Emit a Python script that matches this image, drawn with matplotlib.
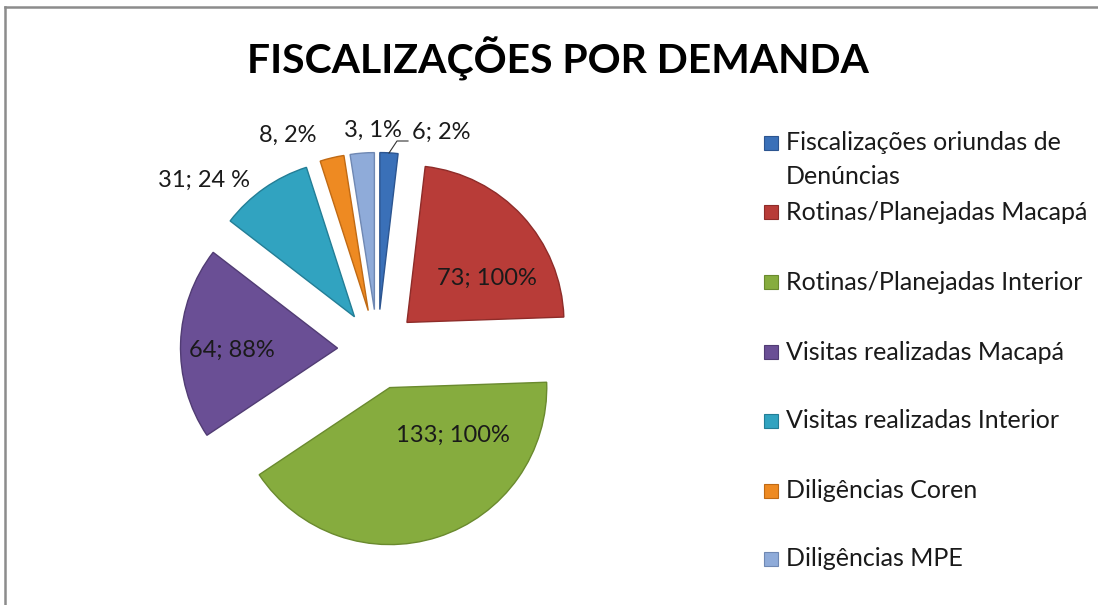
import matplotlib
matplotlib.use("Agg")
import matplotlib.pyplot as plt
from matplotlib.patches import Rectangle
from matplotlib.lines import Line2D

# ---- data ----
categories = [
    "Fiscalizações oriundas de\nDenúncias",
    "Rotinas/Planejadas Macapá",
    "Rotinas/Planejadas Interior",
    "Visitas realizadas Macapá",
    "Visitas realizadas Interior",
    "Diligências Coren",
    "Diligências MPE",
]
values = [6, 73, 133, 64, 31, 8, 8]
data_labels = ["6; 2%", "73; 100%", "133; 100%", "64; 88%", "31; 24 %", "8, 2%", "3, 1%"]
title = "FISCALIZAÇÕES POR DEMANDA"

colors = ["#3A70B8", "#B83C38", "#86AC3E", "#6A4F95", "#31A3C0", "#EE8A22", "#8FABD9"]
edge_colors = ["#2C5590", "#8E2C29", "#6A8A2E", "#513C74", "#237E96", "#C06A14", "#6F88B3"]

W, H = 1098, 605
fig = plt.figure(figsize=(W / 100, H / 100), dpi=100)
fig.patch.set_facecolor("white")

# pie geometry (pixels)
cx, cy, R = 377.5, 349.5, 157.0
ax = fig.add_axes([0, 0, 1, 1])
wedges, _ = ax.pie(values, colors=colors, startangle=90, counterclock=False,
                   explode=[40 / R] * len(values), radius=1.0,
                   wedgeprops=dict(linewidth=1.0))
for w, ec in zip(wedges, edge_colors):
    w.set_edgecolor(ec)
ax.set_xlim(-cx / R, (W - cx) / R)
ax.set_ylim((cy - H) / R, cy / R)
ax.set_aspect("equal", adjustable="box")
ax.axis("off")

def d(px, py):
    return ((px - cx) / R, (cy - py) / R)

font = "Lato"
# data label positions (pixels)
label_pos = [(441, 132), (487, 278), (453, 435), (232, 350), (204, 180), (288, 135), (373, 130)]
for lab, (px, py) in zip(data_labels, label_pos):
    x, y = d(px, py)
    ax.text(x, y, lab, ha="center", va="center", fontsize=17, family=font, color="#1a1a1a")

# leader line for first label
lx, ly = zip(d(389, 153), d(397, 141), d(408, 141))
ax.plot(lx, ly, color="#333333", lw=0.8)

# title
fig.text(558 / W, 1 - 59 / H, title, ha="center", va="center",
         fontsize=29.4, fontweight="bold", family=font, color="black")

# legend (manual)
leg_y = [143, 212, 282, 352, 421, 491, 559]
line_gap = 33
for cat, col, ec, yy in zip(categories, colors, edge_colors, leg_y):
    fig.patches.append(Rectangle((764 / W, 1 - (yy + 7) / H), 14 / W, 14 / H,
                                 transform=fig.transFigure, facecolor=col,
                                 edgecolor=ec, lw=0.8))
    for i, line in enumerate(cat.split("\n")):
        fig.text(786 / W, 1 - (yy + i * line_gap) / H, line, ha="left", va="center",
                 fontsize=18, family=font, color="#1a1a1a")

# border (top and left)
fig.lines.append(Line2D([5 / W, 1], [1 - 7 / H, 1 - 7 / H], transform=fig.transFigure,
                        color="#8c8c8c", lw=1.8))
fig.lines.append(Line2D([5 / W, 5 / W], [0, 1 - 7 / H], transform=fig.transFigure,
                        color="#8c8c8c", lw=1.8))

fig.savefig("out.png", dpi=100)
